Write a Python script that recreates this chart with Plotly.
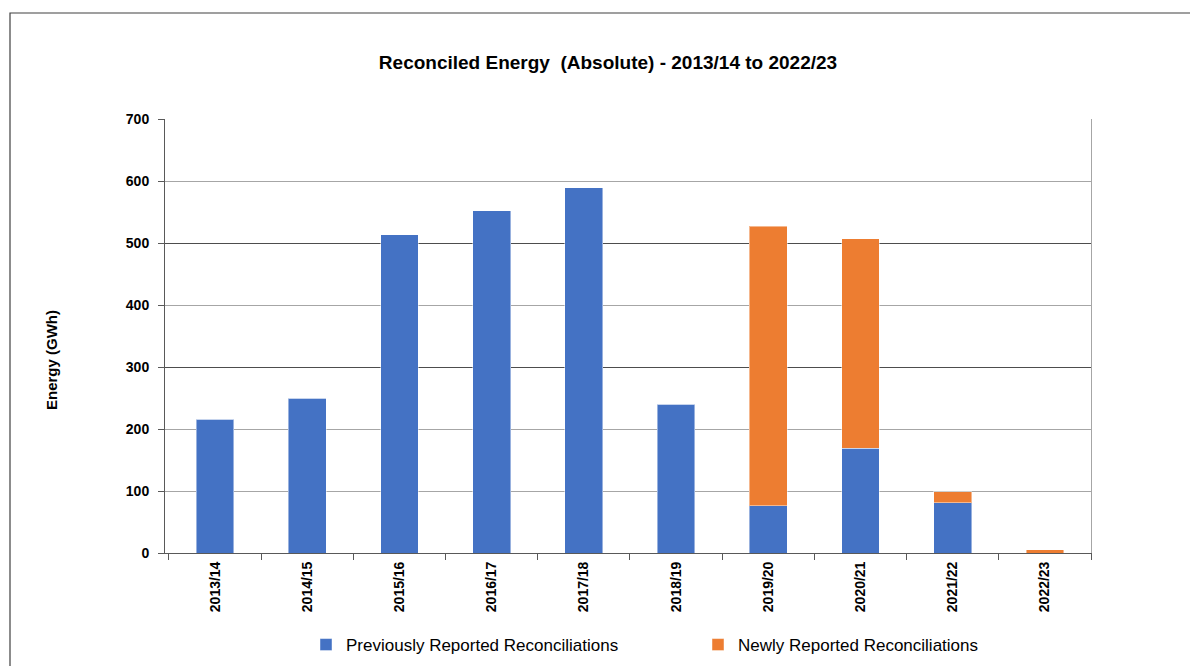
import plotly.graph_objects as go

categories = ["2013/14", "2014/15", "2015/16", "2016/17", "2017/18",
              "2018/19", "2019/20", "2020/21", "2021/22", "2022/23"]
previously_reported = [216, 250, 513, 552, 589, 240, 76, 169, 81, 0]
newly_reported = [0, 0, 0, 0, 0, 0, 451, 338, 18, 5]
y_ticks = [0, 100, 200, 300, 400, 500, 600, 700]

BLUE = "#4472C4"
ORANGE = "#ED7D31"
FONT = "Liberation Sans, Arial, sans-serif"

# page has an 8px body margin; plot area targeted at page px x 165..1091, y 119..553
OFF = 8
FW, FH = 1190, 658
PW, PH = 926, 434
L, T = 165, 119
B = 553


def px_x(x):
    return (x - L) / PW


def px_y(y):
    return (B - y) / PH


fig = go.Figure()
fig.add_trace(go.Bar(
    x=categories, y=previously_reported, name="Previously Reported Reconciliations",
    marker=dict(color=BLUE, line=dict(color="rgba(255,255,255,0.45)", width=1)),
    width=0.41,
))
fig.add_trace(go.Bar(
    x=categories, y=newly_reported, name="Newly Reported Reconciliations",
    marker=dict(color=ORANGE, line=dict(color="rgba(255,255,255,0.45)", width=1)),
    width=0.41,
))
# invisible helper trace to activate the secondary axis (darker gridlines + right border)
fig.add_trace(go.Scatter(x=[categories[0]], y=[0], yaxis="y2", mode="markers",
                         marker=dict(opacity=0), showlegend=False, hoverinfo="skip"))

fig.update_layout(
    barmode="stack",
    width=FW, height=FH,
    margin=dict(l=L - OFF, r=(FW + OFF) - (L + PW), t=T - OFF, b=(FH + OFF) - B,
                autoexpand=False),
    paper_bgcolor="white", plot_bgcolor="white",
    font=dict(family=FONT, color="#000000"),
    title=dict(text="<b>Reconciled Energy  (Absolute) - 2013/14 to 2022/23</b>",
               x=(608 - OFF) / FW, xref="container", xanchor="center",
               y=1 - (62 - OFF) / FH, yref="container", yanchor="middle",
               font=dict(size=19, family=FONT, color="#000000")),
    xaxis=dict(
        type="category", tickangle=-90, tickson="boundaries", ticks="outside",
        ticklen=6, tickcolor="#595959", showline=True, linecolor="#595959",
        linewidth=1, showgrid=False, ticklabelstandoff=2,
        tickfont=dict(size=14, family=FONT, color="#000000", weight="bold"),
    ),
    yaxis=dict(
        range=[0, 700], tickvals=y_ticks, ticks="outside", ticklen=6,
        tickcolor="#595959", showline=True, linecolor="#595959", linewidth=1,
        showgrid=True, gridcolor="#A6A6A6", gridwidth=1, zeroline=False,
        ticklabelstandoff=6,
        tickfont=dict(size=14, family=FONT, color="#000000", weight="bold"),
    ),
    yaxis2=dict(
        range=[0, 700], overlaying="y", side="right", tickvals=[300, 500],
        showticklabels=False, ticks="", showgrid=True, gridcolor="#4D4D4D",
        gridwidth=1, showline=True, linecolor="#A6A6A6", zeroline=False,
    ),
    legend=dict(orientation="h", traceorder="normal",
                x=px_x(306), xanchor="left", y=px_y(645), yanchor="middle",
                entrywidth=347, entrywidthmode="pixels",
                font=dict(size=17, family=FONT, color="#000000")),
    bargap=0.59,
    annotations=[dict(text="<b>Energy (GWh)</b>", textangle=-90, xref="paper", yref="paper",
                      x=px_x(51), y=px_y(360), showarrow=False,
                      xanchor="center", yanchor="middle",
                      font=dict(size=15, family=FONT, color="#000000"))],
    shapes=[dict(type="rect", xref="paper", yref="paper",
                 x0=px_x(10), x1=px_x(1240),
                 y0=px_y(720), y1=px_y(13),
                 line=dict(color="#404040", width=1.2), fillcolor="rgba(0,0,0,0)",
                 layer="below")],
)

fig.write_html("out.html")
